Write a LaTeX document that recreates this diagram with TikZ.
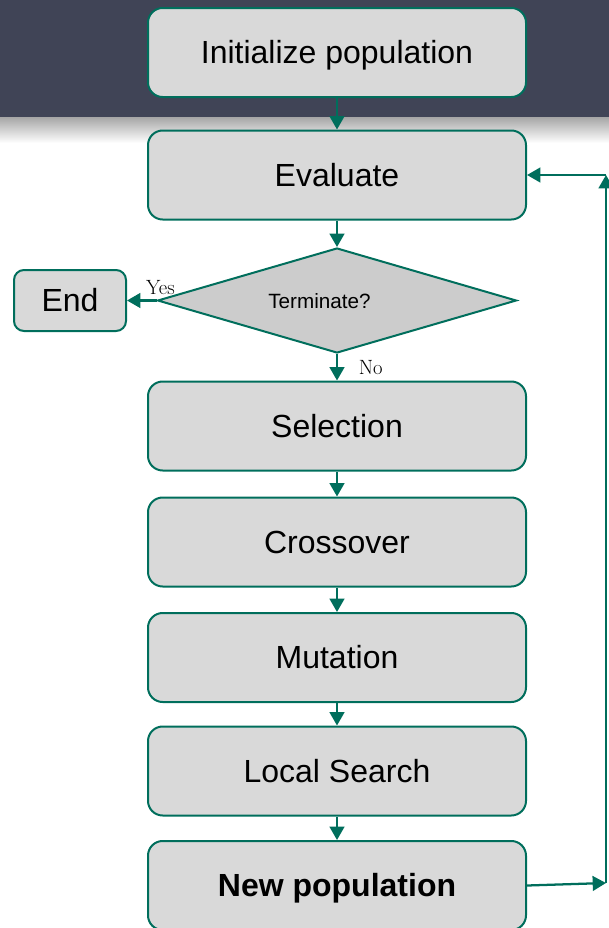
\documentclass[tikz,border=0pt]{standalone}
\usepackage{fontspec}
\setsansfont{Liberation Sans}
\usetikzlibrary{shapes.geometric,arrows.meta}
\definecolor{tealline}{RGB}{0,110,92}
\definecolor{boxfill}{RGB}{217,217,217}
\definecolor{diafill}{RGB}{204,204,204}
\definecolor{headerc}{RGB}{64,68,86}
\begin{document}
\begin{tikzpicture}[x=0.75pt,y=-0.75pt,
  proc/.style={draw=tealline, line width=1.5pt, fill=boxfill, rounded corners=11pt,
    minimum width=283.5pt, minimum height=66.75pt, inner sep=0pt,
    text height=17.2pt, text depth=0pt,
    font=\sffamily\fontsize{24}{28}\selectfont},
  endbox/.style={proc, minimum width=84pt, minimum height=45.75pt, rounded corners=7.5pt},
  decision/.style={diamond, shape aspect=3.4, draw=tealline, line width=1.5pt, fill=diafill, inner sep=0pt,
    minimum width=269.25pt, minimum height=78.75pt},
  dtext/.style={font=\sffamily\fontsize{15.5}{18}\selectfont, inner sep=0pt,
    text height=11.1pt, text depth=0pt},
  arr/.style={draw=tealline, line width=1.7pt, -{Triangle[length=10pt,width=11pt]}},
  lbl/.style={font=\fontsize{15.5}{18}\selectfont, inner sep=0pt}]
\useasboundingbox (0,0) rectangle (609,928);
\clip (0,0) rectangle (609,928);
% header band and its shadow
\fill[headerc] (0,0) rectangle (609,117);
\shade[top color=black!35, bottom color=white] (0,117) rectangle (609,143);
% nodes
\node[proc] (init) at (337,52.5) {Initialize population};
\node[proc] (eval) at (337,175) {Evaluate};
\node[decision] (term) at (337,300.5) {};
\node[dtext] (termtxt) at (319.5,301) {Terminate?};
\node[endbox] (end) at (70,300.5) {End};
\node[proc] (sel) at (337,426) {Selection};
\node[proc] (cross) at (337,542) {Crossover};
\node[proc] (mut) at (337,657.5) {Mutation};
\node[proc] (ls) at (337,771) {Local Search};
\node[proc] (newp) at (337,885.5) {\bfseries New population};
\coordinate (c1) at (606,883);
\coordinate (c2) at (606,175);
% connectors
\draw[arr] (init) -- (eval);
\draw[arr] (eval) -- (term);
\draw[arr] (term.west) -- (end.east)
  node[lbl, at start, anchor=base, xshift=3pt, yshift=4.5pt] {Yes};
\draw[arr] (term.south) -- (sel.north)
  node[lbl, at start, anchor=base west, xshift=15.5pt, yshift=-15pt] {No};
\draw[arr] (sel) -- (cross);
\draw[arr] (cross) -- (mut);
\draw[arr] (mut) -- (ls);
\draw[arr] (ls) -- (newp);
\draw[arr] (newp.east) -- (c1);
\draw[arr] (c1) -- (c2);
\draw[arr] (c2) -- (eval.east);
\end{tikzpicture}
\end{document}
